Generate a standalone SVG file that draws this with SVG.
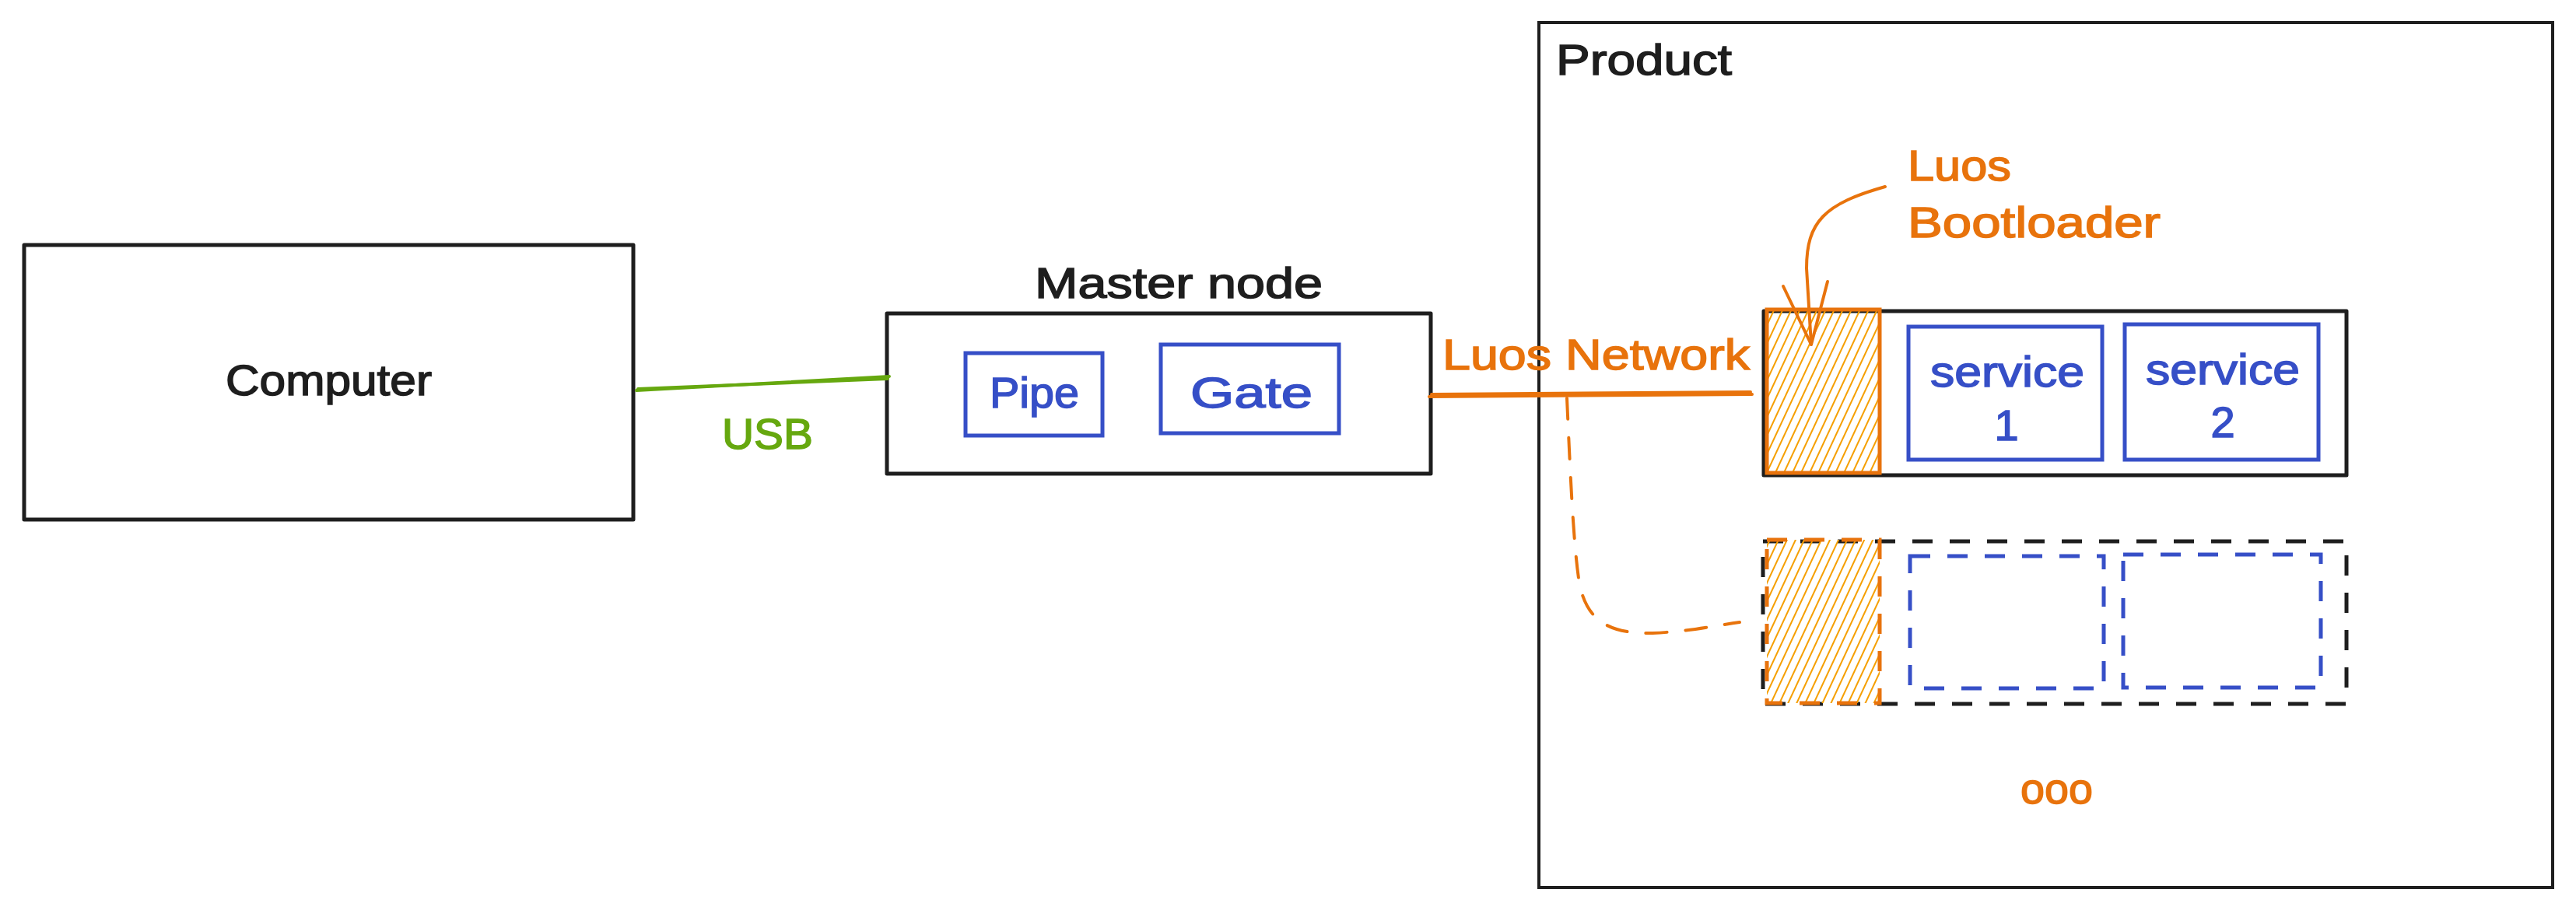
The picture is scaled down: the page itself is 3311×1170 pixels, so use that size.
<svg xmlns="http://www.w3.org/2000/svg" width="3311" height="1170" viewBox="0 0 3311 1170">
  <style>
    .box { fill: none; stroke: #1e1e1e; stroke-width: 5; stroke-linejoin: round; stroke-linecap: round; }
    .thin { fill: none; stroke: #1e1e1e; stroke-width: 4; }
    .bbox { fill: none; stroke: #364fc7; stroke-width: 5; stroke-linecap: round; }
    .dash-k { fill: none; stroke: #1e1e1e; stroke-width: 5; stroke-dasharray: 26 22; }
    .dash-b { fill: none; stroke: #364fc7; stroke-width: 5; stroke-dasharray: 26 22; }
    .dash-o { fill: none; stroke: #e8730c; stroke-width: 5; stroke-dasharray: 26 22; }
    .hatchbox { fill: url(#hatch); stroke: #e8730c; stroke-width: 5; }
    .t { font-family: "Liberation Sans", Arial, sans-serif; font-size: 56px; stroke-width: 1.5px; }
    .k { fill: #1e1e1e; stroke: #1e1e1e; }
    .b { fill: #364fc7; stroke: #364fc7; }
    .o { fill: #e8730c; stroke: #e8730c; }
    .g { fill: #66a80f; stroke: #66a80f; }
    .conn-o { fill: none; stroke: #e8730c; stroke-width: 4; stroke-linecap: round; stroke-linejoin: round; }
    .conn-g { fill: none; stroke: #66a80f; stroke-width: 4; stroke-linecap: round; }
  </style>
  <defs>
    <pattern id="hatch" patternUnits="userSpaceOnUse" width="10" height="10" patternTransform="rotate(25)">
      <line x1="5" y1="0" x2="5" y2="10" stroke="#f59f00" stroke-width="2"/>
    </pattern>
  </defs>
  <rect width="3311" height="1170" fill="#ffffff"/>

  <g id="computer">
    <rect class="box" x="31" y="315" width="783" height="353"/>
    <text class="t k" x="290" y="508" textLength="265" lengthAdjust="spacingAndGlyphs">Computer</text>
  </g>

  <g id="master-node">
    <text class="t k" x="1330" y="383" textLength="370" lengthAdjust="spacingAndGlyphs">Master node</text>
    <rect class="box" x="1140" y="403" width="699" height="206"/>
  </g>
  <g id="pipe">
    <rect class="bbox" x="1241" y="454" width="176" height="106"/>
    <text class="t b" x="1272" y="524" textLength="115" lengthAdjust="spacingAndGlyphs">Pipe</text>
  </g>
  <g id="gate">
    <rect class="bbox" x="1492" y="443" width="229" height="114"/>
    <text class="t b" x="1530" y="524" textLength="157" lengthAdjust="spacingAndGlyphs">Gate</text>
  </g>

  <g id="product">
    <rect class="thin" x="1978" y="29" width="1303" height="1112"/>
    <text class="t k" x="2000" y="96" textLength="226" lengthAdjust="spacingAndGlyphs">Product</text>
  </g>

  <g id="node-1">
    <rect class="box" x="2267" y="400" width="749" height="211"/>
  </g>
  <g id="bootloader-1">
    <rect class="hatchbox" x="2271" y="398" width="145" height="210"/>
  </g>
  <g id="service-1">
    <rect class="bbox" x="2453" y="420" width="249" height="171"/>
    <text class="t b" x="2481" y="497" font-size="64" textLength="198" lengthAdjust="spacingAndGlyphs">service</text>
    <text class="t b" x="2579" y="566" text-anchor="middle">1</text>
  </g>
  <g id="service-2">
    <rect class="bbox" x="2731" y="417" width="249" height="174"/>
    <text class="t b" x="2758" y="494" font-size="64" textLength="198" lengthAdjust="spacingAndGlyphs">service</text>
    <text class="t b" x="2857" y="562" text-anchor="middle">2</text>
  </g>

  <g id="bootloader-label">
    <text class="t o" x="2452" y="232" textLength="133" lengthAdjust="spacingAndGlyphs">Luos</text>
    <text class="t o" x="2452" y="305" textLength="325" lengthAdjust="spacingAndGlyphs">Bootloader</text>
  </g>

  <g id="node-2">
    <rect class="dash-k" x="2266" y="696" width="750" height="209"/>
  </g>
  <g id="bootloader-2">
    <rect x="2271" y="694" width="145" height="210" fill="url(#hatch)"/>
    <rect class="dash-o" x="2271" y="694" width="145" height="210"/>
  </g>
  <g id="service-3">
    <rect class="dash-b" x="2455" y="715" width="249" height="170"/>
  </g>
  <g id="service-4">
    <rect class="dash-b" x="2729" y="713" width="254" height="171"/>
  </g>

  <g id="more">
    <text class="t o" x="2597" y="1033" font-size="44" textLength="93" lengthAdjust="spacingAndGlyphs">ooo</text>
  </g>

  <g id="connectors">
    <path class="conn-g" d="M818,502 L1143,484"/>
    <path class="conn-g" d="M820,500 L1141,487" stroke-width="2"/>
    <text class="t g" x="928" y="577" textLength="117" lengthAdjust="spacingAndGlyphs">USB</text>

    <path class="conn-o" d="M1837,510 L2252,507"/>
    <path class="conn-o" d="M1840,507 L2250,504" stroke-width="2"/>
    <text class="t o" x="1854" y="475" textLength="395" lengthAdjust="spacingAndGlyphs">Luos Network</text>

    <path class="conn-o" stroke-width="3" stroke-dasharray="27 24" d="M2014,512 C2018,600 2022,700 2030,750 C2040,800 2070,815 2124,814 C2170,812 2200,805 2236,800"/>

    <path class="conn-o" stroke-width="3" d="M2423,240 C2345,262 2322,285 2322,345 L2328,443"/>
    <path class="conn-o" stroke-width="3" d="M2292,368 L2328,443 L2349,362"/>
  </g>
</svg>
